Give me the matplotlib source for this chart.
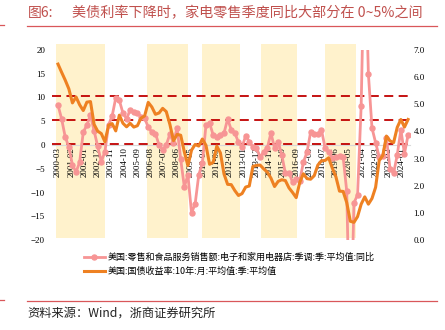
import matplotlib

matplotlib.use("Agg")
import matplotlib.pyplot as plt
import pandas as pd

# quarterly series, 2000Q1 .. 2024Q2
first_quarter = "2000Q1"
retail_yoy = [
    8.4, 5.5, 1.7, -0.4,
    -4.2, -5.7, -3.6, 2.7,
    4.2, 6.3, 3.0, -0.3,
    -3.5, -1.4, 4.2, 6.1,
    9.9, 9.4, 6.7, 5.5,
    7.4, 7.0, 6.7, 6.0,
    5.6, 3.8, 2.7, 2.4,
    0.0, -1.0, 0.0, 2.3,
    0.5, 3.6, -3.0, -8.8,
    -6.3, -14.3, -12.4, -6.3,
    -3.8, 4.2, 4.6, 2.1,
    1.7, 2.1, 2.5, 5.5,
    3.2, 2.5, 0.6, -0.4,
    1.9, 0.7, -0.4, -0.6,
    -2.5, -1.5, -0.6, 2.5,
    -0.6, 0.7, -2.1, -5.9,
    -5.9, -7.8, -7.2, -7.5,
    -3.6, -1.5, 2.7, 2.3,
    2.3, 3.2, -0.6, -1.5,
    -2.7, -2.5, -2.3, -2.5,
    -9.7, -45.0, -12.2, -10.5,
    8.2, 45.0, 15.0, 3.6,
    0.5, -2.5, -2.3, 1.5,
    -5.0, -5.9, -2.1, 3.2,
    -1.8, 2.1,
]
yield_10y = [
    6.48, 6.18, 5.89, 5.57,
    5.05, 5.27, 4.98, 4.77,
    5.08, 5.10, 4.26, 4.01,
    3.92, 3.62, 4.23, 4.29,
    4.02, 4.60, 4.30, 4.17,
    4.30, 4.16, 4.21, 4.49,
    4.57, 5.07, 4.90, 4.63,
    4.68, 4.85, 4.73, 4.26,
    3.66, 3.89, 3.86, 3.25,
    2.74, 3.31, 3.52, 3.46,
    3.72, 3.49, 2.79, 2.86,
    3.46, 3.21, 2.43, 2.05,
    2.04, 1.82, 1.64, 1.71,
    1.95, 1.99, 2.71, 2.75,
    2.76, 2.62, 2.50, 2.28,
    1.97, 2.16, 2.22, 2.19,
    1.92, 1.75, 1.56, 2.13,
    2.44, 2.26, 2.24, 2.37,
    2.76, 2.92, 2.93, 3.03,
    2.65, 2.33, 1.80, 1.79,
    1.38, 0.69, 0.65, 0.86,
    1.32, 1.59, 1.32, 1.53,
    1.94, 2.93, 3.11, 3.83,
    3.65, 3.59, 4.15, 4.44,
    4.16, 4.44,
]

tick_labels = [
    "2000-03", "2001-02", "2002-01", "2002-12", "2003-11", "2004-10", "2005-09",
    "2006-08", "2007-07", "2008-06", "2009-05", "2010-04", "2011-03", "2012-02",
    "2013-01", "2013-12", "2014-11", "2015-10", "2016-09", "2017-08", "2018-07",
    "2019-06", "2020-05", "2021-04", "2022-03", "2023-02", "2024-01",
]

# periods of falling US rates (shaded)
shade_start = ["2000-01", "2006-05", "2010-03", "2014-04", "2018-09"]
shade_end = ["2003-06", "2009-03", "2012-10", "2016-10", "2020-11"]

ref_levels = [10.4, 5.2, 0.2]

title_no = "图6:"
title = "美债利率下降时，家电零售季度同比大部分在 0~5%之间"
label_retail = "美国:零售和食品服务销售额:电子和家用电器店:季调:季:平均值:同比"
label_yield = "美国:国债收益率:10年:月:平均值:季:平均值"
source = "资料来源：Wind，浙商证券研究所"

CJK = ["Noto Sans CJK SC", "DejaVu Sans"]
plt.rcParams["font.family"] = ["Liberation Serif", "DejaVu Serif"]
RED = "#c0504d"
PINK = "#f79595"
ORANGE = "#ee8122"
SHADE = "#fff2cc"


def month_index(year: int, month: int) -> int:
    return (year - 2000) * 12 + month - 3


def ym_index(s: str) -> int:
    y, m = s.split("-")
    return month_index(int(y), int(m))


quarters = pd.period_range(first_quarter, periods=len(retail_yoy), freq="Q")
x = [month_index(q.year, q.end_time.month) for q in quarters]
tick_pos = [ym_index(s) for s in tick_labels]

W, H = 445, 330
fig = plt.figure(figsize=(W / 100, H / 100), dpi=100)
px_left, px_right, px_top, px_bottom = 52, 410, 50, 240
ax = fig.add_axes([px_left / W, 1 - px_bottom / H, (px_right - px_left) / W, (px_bottom - px_top) / H])
ax2 = ax.twinx()

# shaded periods, slightly taller than the plot area
for s, e in zip(shade_start, shade_end):
    a, b = ym_index(s), ym_index(e)
    ax.bar(a, 40.8, width=b - a, bottom=-19.5, align="edge", color=SHADE,
           zorder=0, clip_on=False, linewidth=0)

for lvl in ref_levels:
    ax.axhline(lvl, color="#c00000", ls=(0, (5, 3)), lw=1.3, zorder=2)

ax.plot(x, retail_yoy, color=PINK, lw=2, marker="o", ms=3.6, zorder=3,
        label=label_retail)
ax2.plot(x, yield_10y, color=ORANGE, lw=2.2, zorder=3, label=label_yield)

for a in (ax, ax2):
    for sp in a.spines.values():
        sp.set_visible(False)
ax.spines["bottom"].set_visible(True)
ax.spines["bottom"].set_position(("data", 0))
ax.spines["bottom"].set_color("#d9d9d9")
ax.spines["bottom"].set_zorder(1)

ax.set_ylim(-20, 20)
ax.set_yticks(range(-20, 21, 5))
ax2.set_ylim(0, 7)
ax2.set_yticks([i * 1.0 for i in range(8)])
ax2.set_yticklabels([f"{i:.1f}" for i in range(8)])
ax.set_xlim((px_left - 58) / 1.203, (px_right - 58) / 1.203)
ax.set_xticks(tick_pos)
ax.set_xticklabels(tick_labels)

for a in (ax, ax2):
    a.tick_params(length=0, labelsize=6.5)
ax.tick_params(axis="y", pad=5)
ax.tick_params(axis="x", pad=1.5, labelrotation=90)
ax2.tick_params(axis="y", pad=2.5)

# legend
h1, l1 = ax.get_legend_handles_labels()
h2, l2 = ax2.get_legend_handles_labels()
fig.legend(h1 + h2, l1 + l2, loc="upper left", bbox_to_anchor=(84 / W, 1 - 253 / H),
           frameon=False, prop={"family": CJK, "size": 6.5}, handlelength=2.3,
           handletextpad=0.3, labelspacing=0.55, borderaxespad=0, borderpad=0)

# header / footer
fig.text(28 / W, 1 - 13 / H, title_no, family=CJK, fontsize=10, color=RED, va="center")
fig.text(72 / W, 1 - 13 / H, title, family=CJK, fontsize=10.2, color=RED, va="center")
fig.add_artist(plt.Line2D([27 / W, 437 / W], [1 - 26 / H] * 2, color="#d9575a", lw=0.9))
fig.add_artist(plt.Line2D([0, 4 / W], [1 - 25 / H] * 2, color="#d9575a", lw=0.9))
fig.add_artist(plt.Line2D([27 / W, 437 / W], [1 - 301 / H] * 2, color="#d9575a", lw=0.9))
fig.add_artist(plt.Line2D([0, 4 / W], [1 - 300 / H] * 2, color="#d9575a", lw=0.9))
fig.text(27 / W, 1 - 313 / H, source, family=CJK, fontsize=8.8, color="#222222", va="center")

fig.savefig("out.png", dpi=100)
